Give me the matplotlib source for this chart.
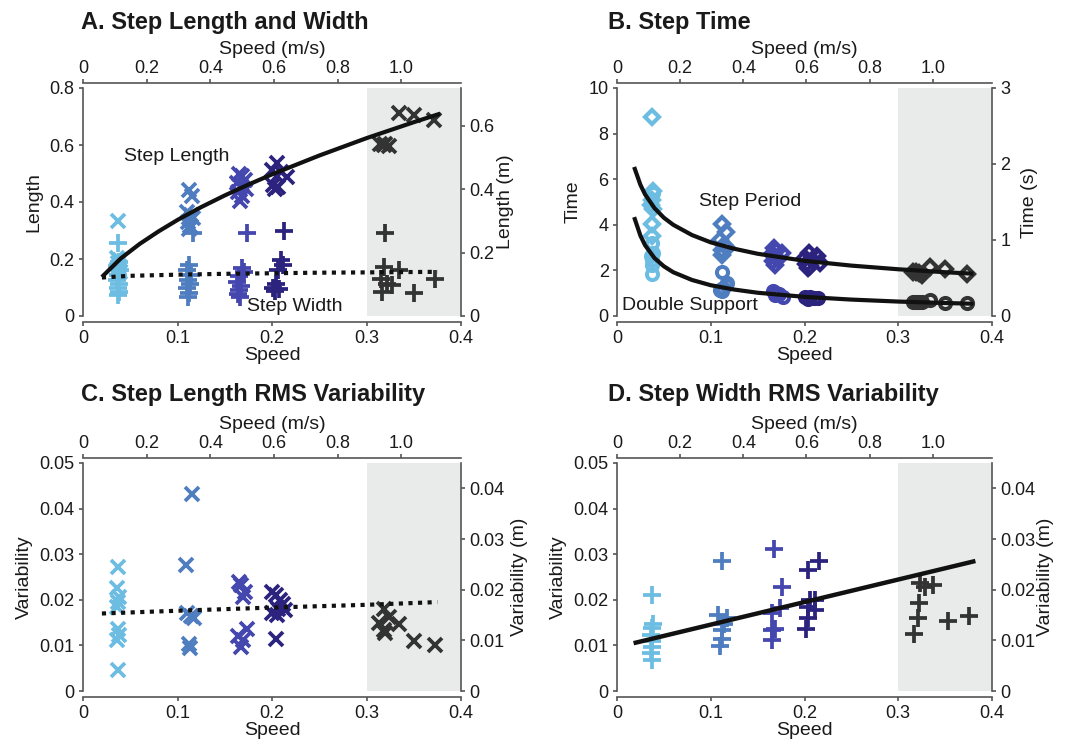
import matplotlib
matplotlib.use('Agg')
import matplotlib.pyplot as plt
import numpy as np

plt.rcParams['font.family'] = ['Liberation Sans', 'DejaVu Sans']

# ---------------- data ----------------
GROUP_COLORS = ['#6DBDE3', '#4E7DC0', '#4447AE', '#2C237E', '#333333']
SPEED_K = 2.97   # dimensionless speed -> m/s
LEN_K = 0.9      # dimensionless length -> m
TIME_K = 0.3     # dimensionless time -> s

# Panel A: step length (x) and step width (+)
a_len_speed = [0.037, 0.036, 0.039, 0.037, 0.038, 0.036, 0.039, 0.037,
               0.112, 0.115, 0.110, 0.114, 0.116, 0.111, 0.113, 0.112,
               0.165, 0.168, 0.171, 0.163, 0.167, 0.172, 0.164, 0.168, 0.166,
               0.205, 0.209, 0.200, 0.216, 0.205, 0.201, 0.206, 0.203,
               0.314, 0.318, 0.324, 0.320, 0.334, 0.350, 0.371]
a_len = [0.334, 0.205, 0.195, 0.185, 0.175, 0.165, 0.155, 0.148,
         0.443, 0.422, 0.365, 0.355, 0.345, 0.330, 0.315, 0.305,
         0.500, 0.490, 0.478, 0.465, 0.455, 0.445, 0.435, 0.420, 0.405,
         0.536, 0.506, 0.512, 0.489, 0.492, 0.460, 0.452, 0.447,
         0.605, 0.600, 0.598, 0.603, 0.712, 0.706, 0.689]
a_len_grp = [0]*8 + [1]*8 + [2]*9 + [3]*8 + [4]*7

a_wid_speed = [0.037, 0.038, 0.036, 0.039, 0.037, 0.036, 0.038, 0.037, 0.038, 0.037,
               0.116, 0.112, 0.110, 0.114, 0.111, 0.113, 0.110, 0.112, 0.111,
               0.174, 0.168, 0.170, 0.165, 0.163, 0.167, 0.165, 0.164, 0.166,
               0.213, 0.209, 0.212, 0.206, 0.204, 0.201, 0.207, 0.203,
               0.320, 0.318, 0.334, 0.315, 0.322, 0.327, 0.316, 0.350, 0.373]
a_wid = [0.255, 0.190, 0.175, 0.160, 0.145, 0.128, 0.112, 0.098, 0.085, 0.072,
         0.290, 0.180, 0.160, 0.145, 0.128, 0.112, 0.098, 0.082, 0.065,
         0.290, 0.170, 0.155, 0.140, 0.120, 0.105, 0.092, 0.078, 0.065,
         0.300, 0.195, 0.178, 0.160, 0.112, 0.100, 0.095, 0.088,
         0.290, 0.172, 0.161, 0.131, 0.114, 0.108, 0.084, 0.079, 0.131]
a_wid_grp = [0]*10 + [1]*9 + [2]*9 + [3]*8 + [4]*9

a_len_fit_speed = [0.02, 0.04, 0.06, 0.08, 0.10, 0.125, 0.15, 0.175, 0.20, 0.25, 0.30, 0.35, 0.378]
a_len_fit = [0.137, 0.202, 0.253, 0.297, 0.337, 0.382, 0.423, 0.461, 0.497, 0.563, 0.624, 0.680, 0.710]
a_wid_fit_speed = [0.02, 0.05, 0.10, 0.15, 0.20, 0.25, 0.30, 0.375]
a_wid_fit = [0.135, 0.141, 0.145, 0.148, 0.150, 0.152, 0.153, 0.155]

# Panel B: step period (diamonds) and double support (circles)
b_per_speed = [0.037, 0.038, 0.037, 0.036, 0.038, 0.037, 0.037,
               0.112, 0.116, 0.110, 0.114, 0.117, 0.112, 0.112,
               0.167, 0.170, 0.176, 0.165, 0.168, 0.172, 0.166, 0.169,
               0.205, 0.213, 0.201, 0.208, 0.216, 0.202, 0.206, 0.204,
               0.316, 0.319, 0.3225, 0.325, 0.334, 0.350, 0.373]
b_per = [8.72, 5.47, 5.10, 4.85, 4.70, 4.03, 3.49,
         4.05, 3.67, 3.34, 3.10, 3.00, 2.90, 2.68,
         3.00, 2.85, 2.75, 2.70, 2.60, 2.50, 2.40, 2.25,
         2.75, 2.62, 2.55, 2.45, 2.32, 2.30, 2.20, 2.10,
         1.95, 1.95, 1.90, 1.80, 2.13, 2.04, 1.83]
b_per_grp = [0]*7 + [1]*7 + [2]*8 + [3]*8 + [4]*7

b_ds_speed = [0.038, 0.037, 0.038, 0.036, 0.037, 0.037, 0.037,
              0.112, 0.117, 0.116, 0.113, 0.110, 0.112,
              0.166, 0.170, 0.173, 0.177, 0.168,
              0.201, 0.206, 0.210, 0.214, 0.204,
              0.316, 0.319, 0.322, 0.325, 0.334, 0.350, 0.373]
b_ds = [5.40, 3.20, 2.76, 2.61, 2.45, 2.24, 1.85,
        1.91, 1.45, 1.35, 1.25, 1.15, 1.10,
        1.08, 1.00, 0.95, 0.85, 0.90,
        0.85, 0.82, 0.78, 0.78, 0.74,
        0.62, 0.60, 0.62, 0.60, 0.69, 0.59, 0.57]
b_ds_grp = [0]*7 + [1]*6 + [2]*5 + [3]*5 + [4]*7

b_fit_speed = [0.019, 0.025, 0.03, 0.04, 0.05, 0.06, 0.08, 0.10, 0.125, 0.15, 0.20, 0.25, 0.30, 0.35, 0.378]
b_per_fit = [6.45, 5.75, 5.33, 4.73, 4.31, 4.00, 3.55, 3.23, 2.95, 2.73, 2.42, 2.21, 2.05, 1.92, 1.86]
b_ds_fit = [4.25, 3.52, 3.10, 2.54, 2.18, 1.92, 1.58, 1.35, 1.16, 1.02, 0.84, 0.72, 0.633, 0.57, 0.54]

# Panel C: step length RMS variability (x)
c_speed = [0.037, 0.036, 0.038, 0.037, 0.036, 0.037, 0.038, 0.036, 0.037,
           0.115, 0.109, 0.110, 0.114, 0.117, 0.112, 0.113,
           0.165, 0.167, 0.171, 0.169, 0.174, 0.164, 0.169, 0.167,
           0.200, 0.204, 0.208, 0.212, 0.206, 0.214, 0.200, 0.205, 0.2046,
           0.318, 0.3235, 0.313, 0.334, 0.318, 0.320, 0.350, 0.372]
c_var = [0.0273, 0.0225, 0.0207, 0.0196, 0.0185, 0.0137, 0.0122, 0.0111, 0.0045,
         0.0432, 0.0277, 0.0170, 0.0165, 0.0160, 0.0104, 0.0095,
         0.0240, 0.0232, 0.0218, 0.0207, 0.0137, 0.0120, 0.0111, 0.0097,
         0.0218, 0.0210, 0.0200, 0.0190, 0.0180, 0.0178, 0.0170, 0.0166, 0.0113,
         0.0179, 0.0163, 0.0150, 0.0147, 0.0133, 0.0128, 0.0109, 0.0100]
c_grp = [0]*9 + [1]*7 + [2]*8 + [3]*9 + [4]*8
c_fit_speed = [0.02, 0.10, 0.20, 0.30, 0.375]
c_fit = [0.0170, 0.0176, 0.0183, 0.0189, 0.0195]

# Panel D: step width RMS variability (+)
d_speed = [0.037, 0.038, 0.037, 0.036, 0.037, 0.037, 0.036, 0.037,
           0.112, 0.108, 0.117, 0.114, 0.112, 0.112, 0.110,
           0.1675, 0.176, 0.174, 0.165, 0.169, 0.165, 0.165,
           0.215, 0.204, 0.206, 0.211, 0.204, 0.204, 0.202, 0.211,
           0.323, 0.328, 0.337, 0.322, 0.321, 0.317, 0.353, 0.3755]
d_var = [0.0210, 0.0148, 0.0138, 0.0122, 0.0110, 0.0097, 0.0084, 0.0069,
         0.0285, 0.0166, 0.0159, 0.0148, 0.0133, 0.0115, 0.0098,
         0.0311, 0.0229, 0.0181, 0.0170, 0.0137, 0.0133, 0.0111,
         0.0284, 0.0265, 0.0200, 0.0200, 0.0185, 0.0159, 0.0137, 0.0178,
         0.0236, 0.0229, 0.0232, 0.0192, 0.0161, 0.0126, 0.0154, 0.0164]
d_grp = [0]*8 + [1]*7 + [2]*7 + [3]*8 + [4]*8
d_fit_speed = [0.02, 0.38]
d_fit = [0.0106, 0.0284]

# ---------------- figure ----------------
W, H = 1067, 742
fig = plt.figure(figsize=(W / 100, H / 100), dpi=100)
SPINE = '#555555'
TXT = '#1a1a1a'
SHADE = '#E9EBEA'
TICK_FS = 13
LAB_FS = 14
TLEN = 3


def px_axes(x0, y0, x1, y1):
    return fig.add_axes([x0 / W, 1 - y1 / H, (x1 - x0) / W, (y1 - y0) / H])


def setup(ax, ylim, yticks, yticklabels, ylabel, rk, rticks, rticklabels, rlabel, rlabel_x):
    ax.set_xlim(0, 0.4)
    ax.set_ylim(*ylim)
    ax.axvspan(0.3, 0.4, color=SHADE, zorder=0, lw=0)
    for s in ['top', 'right']:
        ax.spines[s].set_visible(False)
    ax.spines['bottom'].set_position(('outward', 4.3))
    for s in ['left', 'bottom']:
        ax.spines[s].set_color(SPINE)
        ax.spines[s].set_linewidth(1.2)
    ax.set_xticks([0, 0.1, 0.2, 0.3, 0.4])
    ax.set_xticklabels(['0', '0.1', '0.2', '0.3', '0.4'])
    ax.set_yticks(yticks)
    ax.set_yticklabels(yticklabels)
    ax.tick_params(direction='out', length=TLEN, width=1.2, color=SPINE,
                   labelsize=TICK_FS, labelcolor=TXT, pad=3)
    ax.set_xlabel('Speed', fontsize=LAB_FS, color=TXT, labelpad=0)
    ax.set_ylabel(ylabel, fontsize=LAB_FS, color=TXT, labelpad=5)

    top = ax.secondary_xaxis(1 + 5 / 228, functions=(lambda v: v * SPEED_K, lambda v: v / SPEED_K))
    top.set_xticks([0, 0.2, 0.4, 0.6, 0.8, 1.0])
    top.set_xticklabels(['0', '0.2', '0.4', '0.6', '0.8', '1.0'])
    top.spines['top'].set_color(SPINE)
    top.spines['top'].set_linewidth(1.2)
    top.tick_params(direction='out', length=TLEN, width=1.2, color=SPINE,
                    labelsize=TICK_FS, labelcolor=TXT, pad=1.5)
    top.set_xlabel('Speed (m/s)', fontsize=LAB_FS, color=TXT, labelpad=4)

    right = ax.secondary_yaxis('right', functions=(lambda v: v * rk, lambda v: v / rk))
    right.set_yticks(rticks)
    right.set_yticklabels(rticklabels)
    right.spines['right'].set_color(SPINE)
    right.spines['right'].set_linewidth(1.2)
    right.tick_params(direction='out', length=TLEN, width=1.2, color=SPINE,
                      labelsize=TICK_FS, labelcolor=TXT, pad=3)
    bb = ax.get_position()
    fig.text(rlabel_x / W, bb.y0 + bb.height / 2, rlabel, rotation=90, fontsize=LAB_FS,
             color=TXT, ha='center', va='center')


def scatter(ax, xs, ys, grp, marker, ms, mew, hollow=False):
    for g, c in enumerate(GROUP_COLORS):
        px = [x for x, k in zip(xs, grp) if k == g]
        py = [y for y, k in zip(ys, grp) if k == g]
        kw = dict(ls='none', marker=marker, ms=ms, mew=mew, color=c, zorder=3)
        if hollow:
            kw['mfc'] = 'none'
            kw['mec'] = c
        ax.plot(px, py, **kw)


# Panel A
axA = px_axes(83, 88, 461, 316)
setup(axA, (0, 0.8), [0, 0.2, 0.4, 0.6, 0.8], ['0', '0.2', '0.4', '0.6', '0.8'], 'Length',
      LEN_K, [0, 0.2, 0.4, 0.6], ['0', '0.2', '0.4', '0.6'], 'Length (m)', 506)
scatter(axA, a_wid_speed, a_wid, a_wid_grp, '+', 13.5, 2.7)
scatter(axA, a_len_speed, a_len, a_len_grp, 'x', 10, 2.7)
axA.plot(a_len_fit_speed, a_len_fit, color='#111111', lw=3.0, zorder=4, solid_capstyle='butt')
axA.plot(a_wid_fit_speed, a_wid_fit, color='#111111', lw=3.0, zorder=4, dashes=(1, 1.3))
axA.text(0.043, 0.561, 'Step Length', fontsize=LAB_FS, color=TXT, va='center', ha='left', zorder=5)
axA.text(0.174, 0.032, 'Step Width', fontsize=LAB_FS, color=TXT, va='center', ha='left', zorder=5)

# Panel B
axB = px_axes(617, 88, 992, 316)
setup(axB, (0, 10), [0, 2, 4, 6, 8, 10], ['0', '2', '4', '6', '8', '10'], 'Time',
      TIME_K, [0, 1, 2, 3], ['0', '1', '2', '3'], 'Time (s)', 1030)
scatter(axB, b_ds_speed, b_ds, b_ds_grp, 'o', 8, 2.9, hollow=True)
scatter(axB, b_per_speed, b_per, b_per_grp, 'D', 7, 3.0, hollow=True)
axB.plot(b_fit_speed, b_per_fit, color='#111111', lw=3.0, zorder=4)
axB.plot(b_fit_speed, b_ds_fit, color='#111111', lw=3.0, zorder=4)
axB.text(0.0876, 5.03, 'Step Period', fontsize=LAB_FS, color=TXT, va='center', ha='left', zorder=5)
axB.text(0.005, 0.44, 'Double Support', fontsize=LAB_FS, color=TXT, va='center', ha='left', zorder=5)

# Panel C
var_ticks = [0, 0.01, 0.02, 0.03, 0.04, 0.05]
var_labels = ['0', '0.01', '0.02', '0.03', '0.04', '0.05']
axC = px_axes(83, 463, 461, 691)
setup(axC, (0, 0.05), var_ticks, var_labels, 'Variability',
      LEN_K, [0, 0.01, 0.02, 0.03, 0.04], ['0', '0.01', '0.02', '0.03', '0.04'], 'Variability (m)', 519)
scatter(axC, c_speed, c_var, c_grp, 'x', 10, 2.7)
axC.plot(c_fit_speed, c_fit, color='#111111', lw=3.0, zorder=4, dashes=(1, 1.3))

# Panel D
axD = px_axes(617, 463, 992, 691)
setup(axD, (0, 0.05), var_ticks, var_labels, 'Variability',
      LEN_K, [0, 0.01, 0.02, 0.03, 0.04], ['0', '0.01', '0.02', '0.03', '0.04'], 'Variability (m)', 1046)
scatter(axD, d_speed, d_var, d_grp, '+', 13.5, 2.7)
axD.plot(d_fit_speed, d_fit, color='#111111', lw=3.2, zorder=4)

# Titles
TITLE_FS = 17
fig.text(81 / W, 1 - 22 / H, 'A. Step Length and Width', fontsize=TITLE_FS, weight='bold', color=TXT, va='center')
fig.text(608 / W, 1 - 22 / H, 'B. Step Time', fontsize=TITLE_FS, weight='bold', color=TXT, va='center')
fig.text(81 / W, 1 - 394 / H, 'C. Step Length RMS Variability', fontsize=TITLE_FS, weight='bold', color=TXT, va='center')
fig.text(608 / W, 1 - 394 / H, 'D. Step Width RMS Variability', fontsize=TITLE_FS, weight='bold', color=TXT, va='center')

fig.savefig('out.png', dpi=100, facecolor='white')
